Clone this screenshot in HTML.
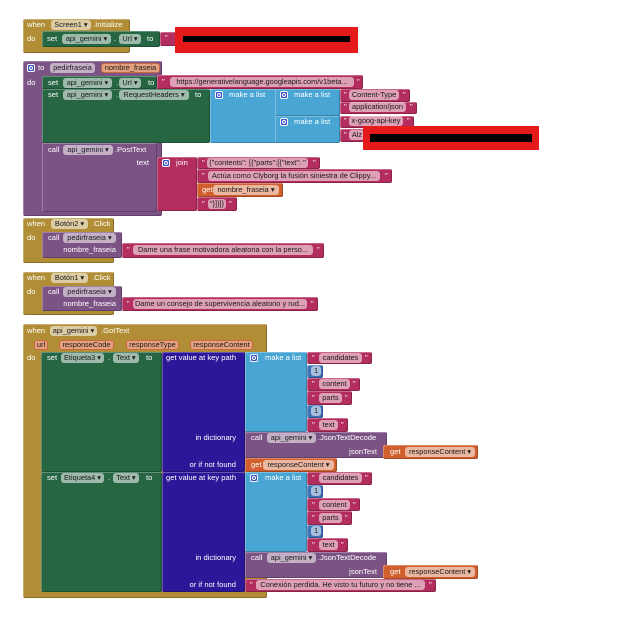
<!DOCTYPE html>
<html><head><meta charset="utf-8">
<style>
html,body{margin:0;padding:0;background:#fff;}
body{width:644px;height:625px;position:relative;overflow:hidden;font-family:"Liberation Sans",Arial,sans-serif;}
.r{position:absolute;box-sizing:border-box;border-radius:2px;box-shadow:inset 1px 1px 0 rgba(255,255,255,.28),inset -1px -1px 0 rgba(0,0,0,.22);}
.l{position:absolute;color:#fff;font-size:7.6px;line-height:10px;height:10px;white-space:nowrap;}
.f{position:absolute;box-sizing:border-box;height:10px;line-height:10px;border-radius:3px;background:rgba(255,255,255,.55);color:#1a1a1a;font-size:7.4px;text-align:center;white-space:nowrap;overflow:hidden;}
.p{background:#e4a07f;border:1px solid #c86a40;line-height:8px;}
.g{position:absolute;width:8px;height:8px;box-sizing:border-box;background:#3a52c9;border:1px solid #fff;border-radius:2px;}
.g::after{content:"";position:absolute;left:1px;top:1px;width:2px;height:2px;border:1px solid #fff;border-radius:50%;}
.rt{text-align:right;}
.gold{background:#B18E35}.grn{background:#266643}.pur{background:#7C5385}.mag{background:#B32D5E}
.lb{background:#49A6D4}.mb{background:#3F71B5}.db{background:#2D1799}.or{background:#D05F2D}
.red{position:absolute;background:#E51B1B}.blk{position:absolute;background:#000}
</style></head><body>

<!-- Block 1: Screen1.Initialize -->
<div class="r gold" style="left:23px;top:19px;width:107px;height:34px"></div>
<div class="l" style="left:27px;top:20px">when</div>
<div class="f" style="left:51px;top:20px;width:40px">Screen1 ▾</div>
<div class="l" style="left:93px;top:20px">.Initialize</div>
<div class="l" style="left:27px;top:34px">do</div>
<div class="r grn" style="left:42px;top:31px;width:118px;height:16px"></div>
<div class="l" style="left:47px;top:34px">set</div>
<div class="f" style="left:62px;top:34px;width:49px">api_gemini ▾</div>
<div class="l" style="left:114px;top:34px">.</div>
<div class="f" style="left:119px;top:34px;width:22px">Url ▾</div>
<div class="l" style="left:147px;top:34px">to</div>
<div class="r mag" style="left:160px;top:32px;width:16px;height:14px"></div>
<div class="l" style="left:165px;top:33px">"</div>
<div class="red" style="left:175px;top:27px;width:183px;height:26px"></div>
<div class="blk" style="left:183px;top:36px;width:167px;height:6px"></div>

<!-- Block 2: procedure pedirfraseia -->
<div class="r pur" style="left:23px;top:61px;width:139px;height:155px"></div>
<div class="g" style="left:27px;top:64px"></div>
<div class="l" style="left:38px;top:63px">to</div>
<div class="f" style="left:50px;top:63px;width:45px">pedirfraseia</div>
<div class="f p" style="left:101px;top:63px;width:59px">nombre_fraseia</div>
<div class="l" style="left:27px;top:78px">do</div>

<div class="r grn" style="left:42px;top:76px;width:115px;height:13px"></div>
<div class="l" style="left:48px;top:78px">set</div>
<div class="f" style="left:63px;top:78px;width:49px">api_gemini ▾</div>
<div class="l" style="left:116px;top:78px">.</div>
<div class="f" style="left:119px;top:78px;width:22px">Url ▾</div>
<div class="l" style="left:148px;top:78px">to</div>
<div class="r mag" style="left:157px;top:75px;width:206px;height:14px"></div>
<div class="l" style="left:162px;top:77px">"</div>
<div class="f" style="left:170px;top:77px;width:184px">https://generativelanguage.googleapis.com/v1beta...</div>
<div class="l" style="left:357px;top:77px">"</div>

<div class="r grn" style="left:42px;top:89px;width:168px;height:54px"></div>
<div class="l" style="left:48px;top:90px">set</div>
<div class="f" style="left:63px;top:90px;width:49px">api_gemini ▾</div>
<div class="l" style="left:116px;top:90px">.</div>
<div class="f" style="left:119px;top:90px;width:70px">RequestHeaders ▾</div>
<div class="l" style="left:195px;top:90px">to</div>
<div class="r lb" style="left:210px;top:89px;width:130px;height:54px"></div>
<div class="g" style="left:215px;top:91px"></div>
<div class="l" style="left:229px;top:90px">make a list</div>
<div class="r lb" style="left:275px;top:89px;width:65px;height:27px"></div>
<div class="g" style="left:280px;top:91px"></div>
<div class="l" style="left:294px;top:90px">make a list</div>
<div class="r lb" style="left:275px;top:116px;width:65px;height:27px"></div>
<div class="g" style="left:280px;top:118px"></div>
<div class="l" style="left:294px;top:117px">make a list</div>

<div class="r mag" style="left:340px;top:89px;width:70px;height:13px"></div>
<div class="l" style="left:344px;top:90px">"</div>
<div class="f" style="left:349px;top:90px;width:50px">Content-Type</div>
<div class="l" style="left:403px;top:90px">"</div>
<div class="r mag" style="left:340px;top:102px;width:77px;height:12px"></div>
<div class="l" style="left:344px;top:102px">"</div>
<div class="f" style="left:349px;top:102px;width:57px">application/json</div>
<div class="l" style="left:410px;top:102px">"</div>
<div class="r mag" style="left:340px;top:116px;width:74px;height:12px"></div>
<div class="l" style="left:344px;top:116px">"</div>
<div class="f" style="left:349px;top:116px;width:54px">x-goog-api-key</div>
<div class="l" style="left:407px;top:116px">"</div>
<div class="r mag" style="left:340px;top:129px;width:25px;height:13px"></div>
<div class="l" style="left:344px;top:130px">"</div>
<div class="f" style="left:349px;top:130px;width:16px">Alz</div>
<div class="red" style="left:363px;top:126px;width:176px;height:24px"></div>
<div class="blk" style="left:370px;top:134px;width:162px;height:8px"></div>

<div class="r pur" style="left:42px;top:143px;width:115px;height:69px"></div>
<div class="l" style="left:48px;top:145px">call</div>
<div class="f" style="left:63px;top:145px;width:50px">api_gemini ▾</div>
<div class="l" style="left:115px;top:145px">.PostText</div>
<div class="l rt" style="right:495px;top:158px">text</div>
<div class="r mag" style="left:157px;top:157px;width:40px;height:54px"></div>
<div class="g" style="left:162px;top:159px"></div>
<div class="l" style="left:176px;top:158px">join</div>
<div class="r mag" style="left:197px;top:157px;width:123px;height:12px"></div>
<div class="l" style="left:202px;top:158px">"</div>
<div class="f" style="left:207px;top:158px;width:101px">{"contents": [{"parts":[{"text": "</div>
<div class="l" style="left:313px;top:158px">"</div>
<div class="r mag" style="left:197px;top:169px;width:195px;height:14px"></div>
<div class="l" style="left:202px;top:171px">"</div>
<div class="f" style="left:208px;top:171px;width:172px">Actúa como Clyborg la fusión siniestra de Clippy...</div>
<div class="l" style="left:385px;top:171px">"</div>
<div class="r or" style="left:197px;top:183px;width:86px;height:14px"></div>
<div class="l" style="left:202px;top:185px">get</div>
<div class="f" style="left:213px;top:185px;width:66px">nombre_fraseia ▾</div>
<div class="r mag" style="left:197px;top:197px;width:40px;height:14px"></div>
<div class="l" style="left:202px;top:199px">"</div>
<div class="f" style="left:208px;top:199px;width:18px">"}]}]}</div>
<div class="l" style="left:229px;top:199px">"</div>

<!-- Block 3: Botón2.Click -->
<div class="r gold" style="left:23px;top:218px;width:91px;height:45px"></div>
<div class="l" style="left:27px;top:219px">when</div>
<div class="f" style="left:51px;top:219px;width:37px">Botón2 ▾</div>
<div class="l" style="left:92px;top:219px">.Click</div>
<div class="l" style="left:27px;top:233px">do</div>
<div class="r pur" style="left:42px;top:232px;width:80px;height:26px"></div>
<div class="l" style="left:48px;top:233px">call</div>
<div class="f" style="left:63px;top:233px;width:53px">pedirfraseia ▾</div>
<div class="l rt" style="right:528px;top:245px">nombre_fraseia</div>
<div class="r mag" style="left:122px;top:243px;width:202px;height:15px"></div>
<div class="l" style="left:127px;top:245px">"</div>
<div class="f" style="left:133px;top:245px;width:180px">Dame una frase motivadora aleatoria con la perso...</div>
<div class="l" style="left:317px;top:245px">"</div>

<!-- Block 4: Botón1.Click -->
<div class="r gold" style="left:23px;top:272px;width:91px;height:43px"></div>
<div class="l" style="left:27px;top:273px">when</div>
<div class="f" style="left:51px;top:273px;width:37px">Botón1 ▾</div>
<div class="l" style="left:92px;top:273px">.Click</div>
<div class="l" style="left:27px;top:287px">do</div>
<div class="r pur" style="left:42px;top:286px;width:80px;height:25px"></div>
<div class="l" style="left:48px;top:287px">call</div>
<div class="f" style="left:63px;top:287px;width:53px">pedirfraseia ▾</div>
<div class="l rt" style="right:528px;top:299px">nombre_fraseia</div>
<div class="r mag" style="left:122px;top:297px;width:196px;height:14px"></div>
<div class="l" style="left:127px;top:299px">"</div>
<div class="f" style="left:133px;top:299px;width:174px">Dame un consejo de supervivencia aleatorio y rud...</div>
<div class="l" style="left:311px;top:299px">"</div>

<!-- Block 5: api_gemini.GotText -->
<div class="r gold" style="left:23px;top:324px;width:244px;height:274px"></div>
<div class="l" style="left:27px;top:326px">when</div>
<div class="f" style="left:50px;top:326px;width:47px">api_gemini ▾</div>
<div class="l" style="left:101px;top:326px">.GotText</div>
<div class="f p" style="left:34px;top:340px;width:14px">url</div>
<div class="f p" style="left:59px;top:340px;width:55px">responseCode</div>
<div class="f p" style="left:126px;top:340px;width:53px">responseType</div>
<div class="f p" style="left:190px;top:340px;width:63px">responseContent</div>
<div class="l" style="left:27px;top:353px">do</div>

<!-- set Etiqueta3 -->
<div class="r grn" style="left:41px;top:352px;width:121px;height:120px"></div>
<div class="l" style="left:47px;top:353px">set</div>
<div class="f" style="left:61px;top:353px;width:43px">Etiqueta3 ▾</div>
<div class="l" style="left:108px;top:353px">.</div>
<div class="f" style="left:113px;top:353px;width:26px">Text ▾</div>
<div class="l" style="left:146px;top:353px">to</div>
<div class="r db" style="left:162px;top:352px;width:83px;height:120px"></div>
<div class="l" style="left:166px;top:353px">get value at key path</div>
<div class="r lb" style="left:245px;top:352px;width:62px;height:80px"></div>
<div class="g" style="left:250px;top:354px"></div>
<div class="l" style="left:265px;top:353px">make a list</div>
<div class="r mag" style="left:307px;top:352px;width:65px;height:12px"></div>
<div class="l" style="left:312px;top:353px">"</div>
<div class="f" style="left:319px;top:353px;width:43px">candidates</div>
<div class="l" style="left:365px;top:353px">"</div>
<div class="r mb" style="left:307px;top:365px;width:16px;height:13px"></div>
<div class="f" style="left:311px;top:366px;width:10px">1</div>
<div class="r mag" style="left:307px;top:378px;width:53px;height:13px"></div>
<div class="l" style="left:312px;top:379px">"</div>
<div class="f" style="left:319px;top:379px;width:31px">content</div>
<div class="l" style="left:353px;top:379px">"</div>
<div class="r mag" style="left:307px;top:391px;width:45px;height:14px"></div>
<div class="l" style="left:312px;top:393px">"</div>
<div class="f" style="left:319px;top:393px;width:23px">parts</div>
<div class="l" style="left:345px;top:393px">"</div>
<div class="r mb" style="left:307px;top:405px;width:16px;height:13px"></div>
<div class="f" style="left:311px;top:406px;width:10px">1</div>
<div class="r mag" style="left:307px;top:418px;width:41px;height:14px"></div>
<div class="l" style="left:312px;top:420px">"</div>
<div class="f" style="left:319px;top:420px;width:19px">text</div>
<div class="l" style="left:341px;top:420px">"</div>
<div class="l rt" style="right:408px;top:433px">in dictionary</div>
<div class="r pur" style="left:245px;top:432px;width:142px;height:26px"></div>
<div class="l" style="left:251px;top:433px">call</div>
<div class="f" style="left:267px;top:433px;width:49px">api_gemini ▾</div>
<div class="l" style="left:318px;top:433px">.JsonTextDecode</div>
<div class="l rt" style="right:267px;top:447px">jsonText</div>
<div class="r or" style="left:383px;top:445px;width:95px;height:14px"></div>
<div class="l" style="left:390px;top:447px">get</div>
<div class="f" style="left:405px;top:447px;width:70px">responseContent ▾</div>
<div class="l rt" style="right:408px;top:460px">or if not found</div>
<div class="r or" style="left:245px;top:458px;width:92px;height:14px"></div>
<div class="l" style="left:251px;top:460px">get</div>
<div class="f" style="left:263px;top:460px;width:71px">responseContent ▾</div>

<!-- set Etiqueta4 -->
<div class="r grn" style="left:41px;top:472px;width:121px;height:120px"></div>
<div class="l" style="left:47px;top:473px">set</div>
<div class="f" style="left:61px;top:473px;width:43px">Etiqueta4 ▾</div>
<div class="l" style="left:108px;top:473px">.</div>
<div class="f" style="left:113px;top:473px;width:26px">Text ▾</div>
<div class="l" style="left:146px;top:473px">to</div>
<div class="r db" style="left:162px;top:472px;width:83px;height:120px"></div>
<div class="l" style="left:166px;top:473px">get value at key path</div>
<div class="r lb" style="left:245px;top:472px;width:62px;height:80px"></div>
<div class="g" style="left:250px;top:474px"></div>
<div class="l" style="left:265px;top:473px">make a list</div>
<div class="r mag" style="left:307px;top:472px;width:65px;height:13px"></div>
<div class="l" style="left:312px;top:473px">"</div>
<div class="f" style="left:319px;top:473px;width:43px">candidates</div>
<div class="l" style="left:365px;top:473px">"</div>
<div class="r mb" style="left:307px;top:485px;width:16px;height:13px"></div>
<div class="f" style="left:311px;top:486px;width:10px">1</div>
<div class="r mag" style="left:307px;top:498px;width:53px;height:13px"></div>
<div class="l" style="left:312px;top:500px">"</div>
<div class="f" style="left:319px;top:500px;width:31px">content</div>
<div class="l" style="left:353px;top:500px">"</div>
<div class="r mag" style="left:307px;top:511px;width:45px;height:14px"></div>
<div class="l" style="left:312px;top:513px">"</div>
<div class="f" style="left:319px;top:513px;width:23px">parts</div>
<div class="l" style="left:345px;top:513px">"</div>
<div class="r mb" style="left:307px;top:525px;width:16px;height:13px"></div>
<div class="f" style="left:311px;top:526px;width:10px">1</div>
<div class="r mag" style="left:307px;top:538px;width:41px;height:14px"></div>
<div class="l" style="left:312px;top:540px">"</div>
<div class="f" style="left:319px;top:540px;width:19px">text</div>
<div class="l" style="left:341px;top:540px">"</div>
<div class="l rt" style="right:408px;top:553px">in dictionary</div>
<div class="r pur" style="left:245px;top:552px;width:142px;height:26px"></div>
<div class="l" style="left:251px;top:553px">call</div>
<div class="f" style="left:267px;top:553px;width:49px">api_gemini ▾</div>
<div class="l" style="left:318px;top:553px">.JsonTextDecode</div>
<div class="l rt" style="right:267px;top:567px">jsonText</div>
<div class="r or" style="left:383px;top:565px;width:95px;height:14px"></div>
<div class="l" style="left:390px;top:567px">get</div>
<div class="f" style="left:405px;top:567px;width:70px">responseContent ▾</div>
<div class="l rt" style="right:408px;top:580px">or if not found</div>
<div class="r mag" style="left:245px;top:579px;width:191px;height:13px"></div>
<div class="l" style="left:250px;top:580px">"</div>
<div class="f" style="left:256px;top:580px;width:169px">Conexión perdida. He visto tu futuro y no tiene ...</div>
<div class="l" style="left:429px;top:580px">"</div>

</body></html>
